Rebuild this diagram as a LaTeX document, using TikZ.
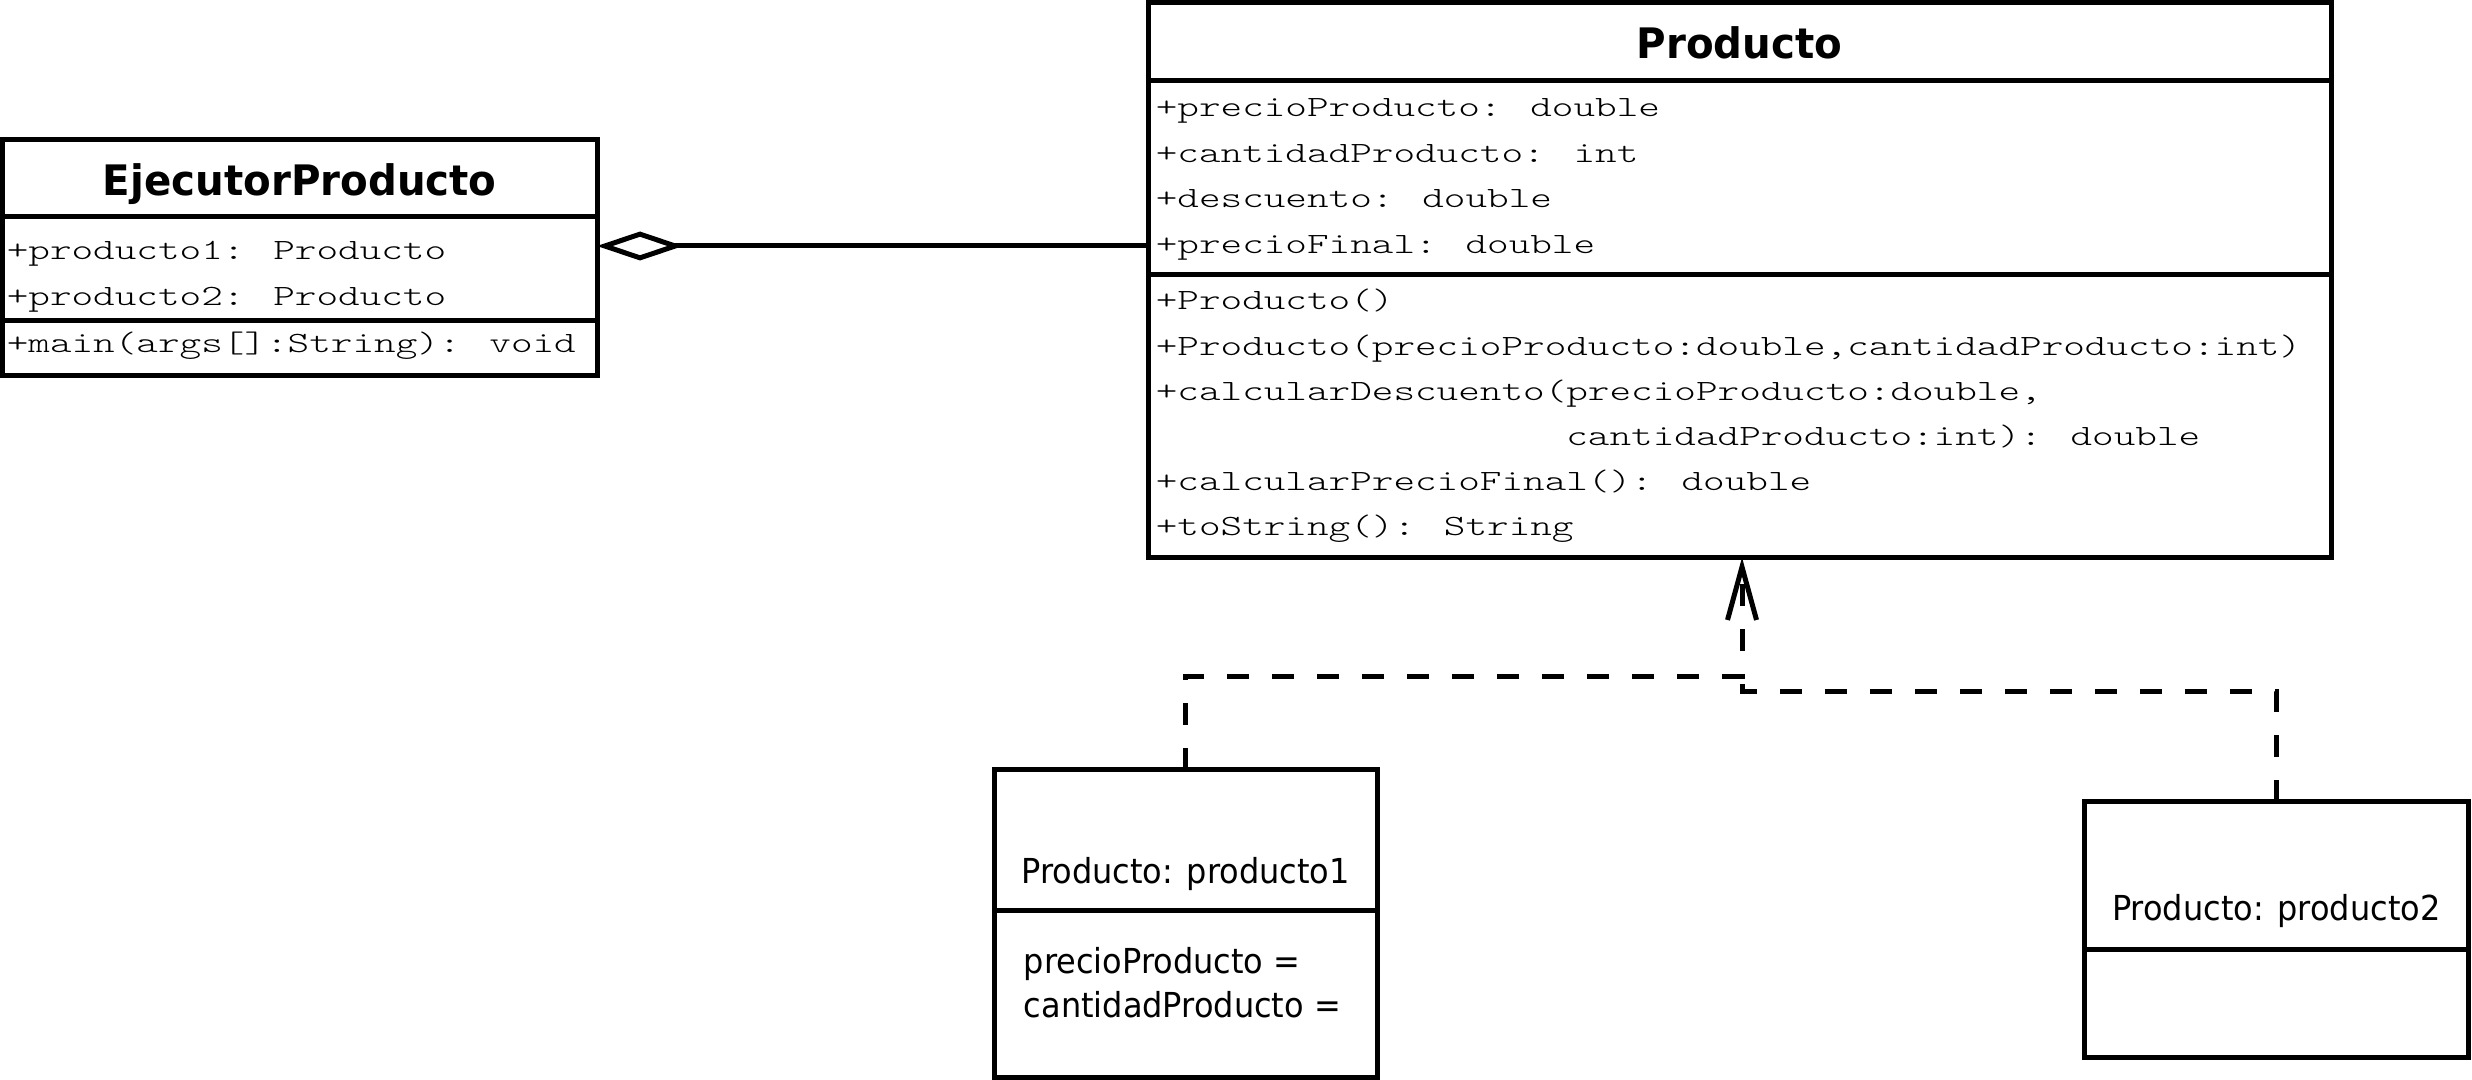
\documentclass[tikz,border=0pt]{standalone}
\usepackage{fontspec}
\usetikzlibrary{arrows.meta}
\newfontfamily\umlmono{Latin Modern Mono Light}[FakeStretch=1.40]
\newfontfamily\umlsans{DejaVu Sans}[FakeStretch=0.93]
\newfontfamily\umltitle{DejaVu Sans}[FakeStretch=0.96]
\begin{document}
\begin{tikzpicture}[x=0.25pt,y=-0.25pt,
  umlline/.style={line width=1.25pt},
  umlbox/.style={draw, line width=1.25pt, rectangle, inner sep=0pt, outer sep=0pt},
  cname/.style={anchor=base, inner sep=0pt, font=\umltitle\bfseries\fontsize{10.5}{12}\selectfont},
  mono/.style={anchor=base west, inner sep=0pt, font=\umlmono\fontsize{7.35}{9}\selectfont},
  oname/.style={anchor=base, inner sep=0pt, font=\umlsans\fontsize{8.6}{10}\selectfont},
  oattr/.style={anchor=base west, inner sep=0pt, font=\umlsans\fontsize{8.6}{10}\selectfont},
  dep/.style={line width=1.25pt, dash pattern=on 5.5pt off 5.75pt},
]
\useasboundingbox (0,0) rectangle (2472,1080);

% ---- EjecutorProducto
\node[umlbox, minimum width=148.625pt, minimum height=58.875pt] (ejec) at (299.75,257.25) {};
\path (ejec.north west) ++(0,77.5) coordinate (ed1);
\path (ejec.north west) ++(0,180.5) coordinate (ed2);
\draw[umlline] (ed1) -- (ed1 -| ejec.east);
\draw[umlline] (ed2) -- (ed2 -| ejec.east);
\node[cname] (ejecT) at (299.75,195) {EjecutorProducto};
\node[mono] (ea1) at (6,260) {+producto1: Producto};
\node[mono] (ea2) at (6,306) {+producto2: Producto};
\node[mono] (em1) at (6,353) {+main(args[]:String): void};

% ---- Producto
\node[umlbox, minimum width=295.75pt, minimum height=138.75pt] (prod) at (1739.5,280) {};
\path (prod.north west) ++(0,78.5) coordinate (pd1);
\path (prod.north west) ++(0,272) coordinate (pd2);
\draw[umlline] (pd1) -- (pd1 -| prod.east);
\draw[umlline] (pd2) -- (pd2 -| prod.east);
\node[cname] (prodT) at (1739.5,59) {Producto};
\node[mono] (pa1) at (1155,117) {+precioProducto: double};
\node[mono] (pa2) at (1155,162.5) {+cantidadProducto: int};
\node[mono] (pa3) at (1155,208) {+descuento: double};
\node[mono] (pa4) at (1155,253.5) {+precioFinal: double};
\node[mono] (pm1) at (1155,310) {+Producto()};
\node[mono] (pm2) at (1155,355) {+Producto(precioProducto:double,cantidadProducto:int)};
\node[mono] (pm3) at (1155,400) {+calcularDescuento(precioProducto:double,};
\node[mono] (pm4) at (1155,445) {\phantom{+calcularDescuento(}cantidadProducto:int): double};
\node[mono] (pm5) at (1155,490) {+calcularPrecioFinal(): double};
\node[mono] (pm6) at (1155,535) {+toString(): String};

% ---- producto1
\node[umlbox, minimum width=95.75pt, minimum height=76.875pt] (p1) at (1185.5,923.25) {};
\path (p1.north west) ++(0,141) coordinate (q1);
\draw[umlline] (q1) -- (q1 -| p1.east);
\node[oname] (p1T) at (1185.5,883) {Producto: producto1};
\node[oattr] (p1a) at (1023,973) {precioProducto =};
\node[oattr] (p1b) at (1023,1017) {cantidadProducto =};

% ---- producto2
\node[umlbox, minimum width=96.125pt, minimum height=64pt] (p2) at (2276.25,929.5) {};
\path (p2.north west) ++(0,147.5) coordinate (q2);
\draw[umlline] (q2) -- (q2 -| p2.east);
\node[oname] (p2T) at (2276.25,920) {Producto: producto2};

% ---- aggregation
\coordinate (aggy) at (0,246);
\draw[umlline, {Diamond[open, length=21.5pt, width=7.25pt]}-] (ejec.east |- aggy) -- (prod.west |- aggy);

% ---- dependencies
\coordinate (j1) at (1742,676);
\coordinate (j2) at (1742,691);
\draw[dep, -{Straight Barb[length=13.25pt, width=7.25pt]}] (p1.north) |- (j1) -- (prod.south -| j1);
\draw[dep] (p2.north) |- (j2) -- (j1);
\end{tikzpicture}
\end{document}
